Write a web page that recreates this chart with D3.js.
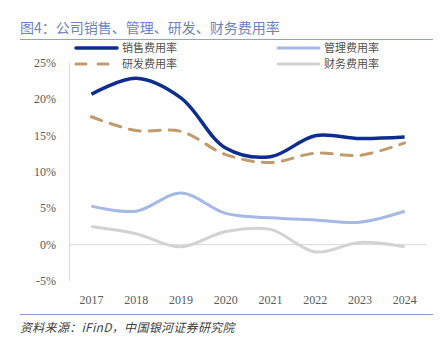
<!DOCTYPE html>
<html>
<head>
<meta charset="utf-8">
<script src="https://cdn.jsdelivr.net/npm/d3@7"></script>
<style>
  body { margin: 0; background: #fff; }
  svg { display: block; }
</style>
</head>
<body>
<svg width="445" height="342"></svg>
<script>
const svg = d3.select("svg");

// dati
const years = ["2017", "2018", "2019", "2020", "2021", "2022", "2023", "2024"];
const sales = [20.7, 22.9, 20.2, 13.3, 12.1, 15.0, 14.6, 14.8];
const admin = [5.3, 4.6, 7.1, 4.3, 3.7, 3.4, 3.1, 4.6];
const rnd = [17.6, 15.7, 15.6, 12.4, 11.3, 12.6, 12.3, 14.0];
const finance = [2.5, 1.5, -0.3, 1.8, 2.1, -1.0, 0.3, -0.3];
const yTicks = [-5, 0, 5, 10, 15, 20, 25];

const series = [
  { name: "销售费用率", values: sales, color: "#0E2D8E", width: 3.5, dash: null },
  { name: "管理费用率", values: admin, color: "#A6B9E4", width: 3, dash: null },
  { name: "研发费用率", values: rnd, color: "#C29B6C", width: 3, dash: "11,9" },
  { name: "财务费用率", values: finance, color: "#D2D2D2", width: 3, dash: null }
];

const cjk = "'Noto Sans CJK SC', 'Noto Sans', sans-serif";

const x = d3.scaleBand().domain(years).range([69, 427]);
const y = d3.scaleLinear().domain([-5, 25]).range([281, 63]);

// titolo
svg.append("text")
  .attr("x", 20).attr("y", 33)
  .attr("font-family", cjk).attr("font-size", 14)
  .attr("fill", "#6E82BD")
  .text("图4：公司销售、管理、研发、财务费用率");

svg.append("line")
  .attr("x1", 20).attr("x2", 433).attr("y1", 39.5).attr("y2", 39.5)
  .attr("stroke", "#8DA1D2").attr("stroke-width", 1);

// assi
svg.append("line")
  .attr("x1", 69.5).attr("x2", 69.5).attr("y1", y(25)).attr("y2", y(-5))
  .attr("stroke", "#D9D9D9");
svg.append("line")
  .attr("x1", 69).attr("x2", 427).attr("y1", y(0)).attr("y2", y(0))
  .attr("stroke", "#D9D9D9");

svg.selectAll(".ytick")
  .data(yTicks)
  .enter().append("text")
  .attr("class", "ytick")
  .attr("x", 56).attr("y", d => y(d) + 4)
  .attr("text-anchor", "end")
  .attr("font-family", "'Liberation Serif', serif").attr("font-size", 12)
  .attr("fill", "#595959")
  .text(d => d + "%");

svg.selectAll(".xtick")
  .data(years)
  .enter().append("text")
  .attr("class", "xtick")
  .attr("x", d => x(d) + x.bandwidth() / 2).attr("y", 304)
  .attr("text-anchor", "middle")
  .attr("font-family", "'Liberation Serif', serif").attr("font-size", 12)
  .attr("fill", "#595959")
  .text(d => d);

// linee
const line = d3.line()
  .x((d, i) => x(years[i]) + x.bandwidth() / 2)
  .y(d => y(d))
  .curve(d3.curveCatmullRom.alpha(0.5));

svg.selectAll(".serie")
  .data(series)
  .enter().append("path")
  .attr("class", "serie")
  .attr("fill", "none")
  .attr("stroke", d => d.color)
  .attr("stroke-width", d => d.width)
  .attr("stroke-dasharray", d => d.dash)
  .attr("stroke-linecap", d => d.dash ? "round" : "butt")
  .attr("d", d => line(d.values));

// legenda
const legendPos = [[76, 48], [278, 48], [76, 64], [278, 64]];
series.forEach((s, i) => {
  const [lx, ly] = legendPos[i];
  svg.append("line")
    .attr("x1", lx).attr("x2", lx + 41).attr("y1", ly).attr("y2", ly)
    .attr("stroke", s.color).attr("stroke-width", s.width)
    .attr("stroke-dasharray", s.dash ? "10,12" : null)
    .attr("stroke-linecap", "round");
  svg.append("text")
    .attr("x", lx + 46).attr("y", ly + 4)
    .attr("font-family", cjk).attr("font-size", 11)
    .attr("fill", "#505050")
    .text(s.name);
});

// fonte
svg.append("line")
  .attr("x1", 20).attr("x2", 433).attr("y1", 314.5).attr("y2", 314.5)
  .attr("stroke", "#8DA1D2").attr("stroke-width", 1);

svg.append("text")
  .attr("x", 20).attr("y", 332)
  .attr("font-family", cjk).attr("font-size", 12)
  .attr("font-style", "italic")
  .attr("fill", "#404040")
  .attr("letter-spacing", 0.3)
  .text("资料来源：iFinD，中国银河证券研究院");
</script>
</body>
</html>
